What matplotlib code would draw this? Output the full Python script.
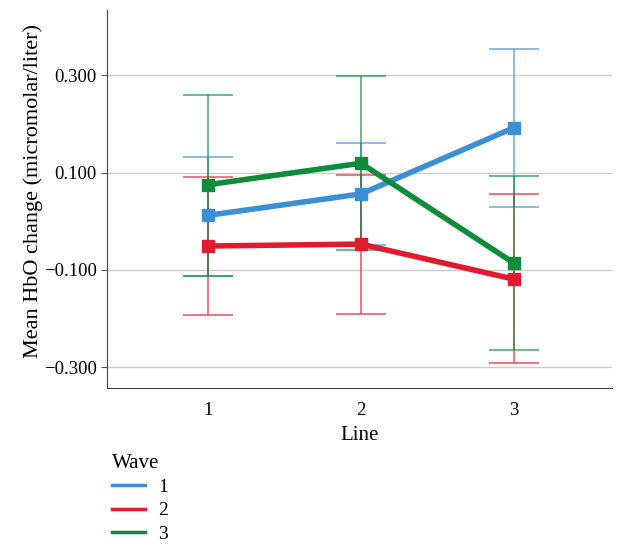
import numpy as np
import matplotlib.pyplot as plt

plt.rcParams['font.family'] = ['Liberation Serif', 'DejaVu Serif']

lines = [1, 2, 3]
waves = ['1', '2', '3']
colors = ['#3b8fd3', '#e21a30', '#0e8c3b']

# mean HbO change per wave, and error bar ends (lower, upper)
means = {
    '1': [0.012, 0.056, 0.192],
    '2': [-0.051, -0.047, -0.119],
    '3': [0.075, 0.119, -0.086],
}
lower = {
    '1': [-0.112, -0.048, 0.029],
    '2': [-0.193, -0.190, -0.292],
    '3': [-0.112, -0.060, -0.264],
}
upper = {
    '1': [0.132, 0.161, 0.354],
    '2': [0.090, 0.095, 0.056],
    '3': [0.260, 0.298, 0.092],
}
yticks = [-0.3, -0.1, 0.1, 0.3]


def main():
    fig = plt.figure(figsize=(6.23, 5.48), dpi=100)
    ax = fig.add_axes([0.172, 0.292, 0.81, 0.69])

    x = np.array(lines)
    for w, c in zip(waves, colors):
        m = np.array(means[w])
        lo = m - np.array(lower[w])
        hi = np.array(upper[w]) - m
        ax.errorbar(x, m, yerr=[lo, hi], fmt='none', ecolor=c, elinewidth=1.2,
                    capsize=18, capthick=1.2, alpha=0.7, zorder=2)
        ax.plot(x, m, color=c, linewidth=4, marker='s', markersize=9,
                label=w, zorder=3)

    ax.set_xlim(0.34, 3.64)
    ax.set_ylim(-0.3425, 0.434)
    ax.set_xticks(lines)
    ax.set_yticks(yticks)
    ax.set_yticklabels(['{:.3f}'.format(v).replace('-', '\u2212') for v in yticks])
    ax.tick_params(axis='x', length=0, labelsize=13.5, pad=10)
    ax.tick_params(axis='y', length=4, labelsize=13.5, color='#555555')
    ax.grid(axis='y', color='#cccccc', linewidth=1)
    ax.set_axisbelow(True)
    for s in ['top', 'right']:
        ax.spines[s].set_visible(False)
    for s in ['left', 'bottom']:
        ax.spines[s].set_color('#444444')

    ax.set_xlabel('Line', fontsize=15, labelpad=5)
    ax.set_ylabel('Mean HbO change (micromolar/liter)', fontsize=16)
    ax.yaxis.set_label_coords(-0.128, 0.52)

    labels = waves
    handles = [plt.Line2D([], [], color=c, linewidth=2.5) for c in colors]
    leg = fig.legend(handles, labels, title='Wave', loc='upper left',
                     bbox_to_anchor=(0.164, 0.19), frameon=False,
                     fontsize=14, title_fontsize=15, handlelength=1.7,
                     labelspacing=0.3, borderpad=0, handletextpad=0.7)
    leg._legend_box.align = 'left'

    fig.savefig('out.png', dpi=100)


if __name__ == '__main__':
    main()
